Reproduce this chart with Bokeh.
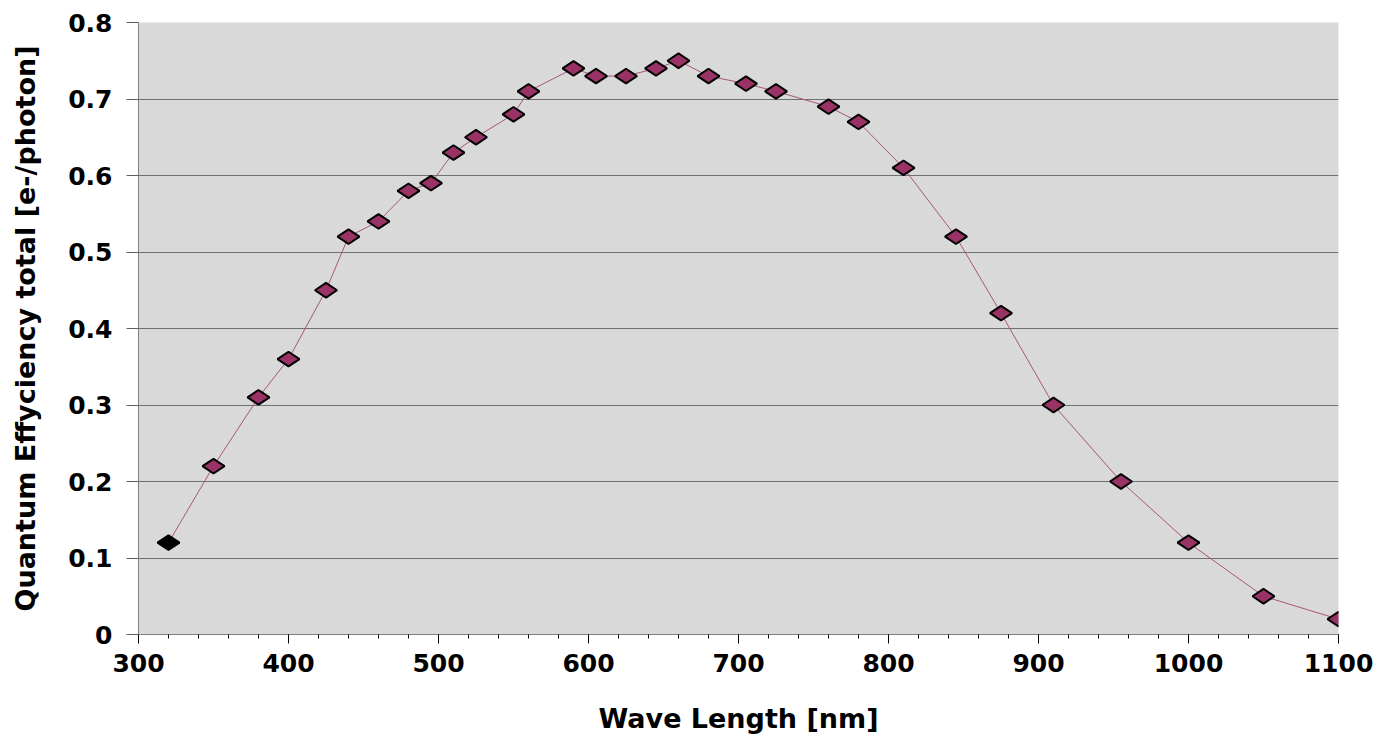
import numpy as np
from bokeh.plotting import figure
from bokeh.models import SingleIntervalTicker, CustomJSTickFormatter, Range1d, ColumnDataSource
from bokeh.embed import file_html
from bokeh.resources import INLINE

wavelength = [320, 350, 380, 400, 425, 440, 460, 480, 495, 510, 525, 550, 560,
              590, 605, 625, 645, 660, 680, 705, 725, 760, 780, 810, 845, 875,
              910, 955, 1000, 1050, 1100]
qe = [0.12, 0.22, 0.31, 0.36, 0.45, 0.52, 0.54, 0.58, 0.59, 0.63, 0.65, 0.68, 0.71,
      0.74, 0.73, 0.73, 0.74, 0.75, 0.73, 0.72, 0.71, 0.69, 0.67, 0.61, 0.52, 0.42,
      0.30, 0.20, 0.12, 0.05, 0.02]

x_label = "Wave Length [nm]"
y_label = "Quantum Effyciency total [e-/photon]"

FONT = "DejaVu Sans"

p = figure(width=1385, height=732, output_backend="svg", toolbar_location=None,
           x_range=Range1d(300, 1100), y_range=Range1d(0, 0.8),
           min_border_left=138, min_border_right=47, min_border_top=22, min_border_bottom=98)
p.frame_width = 1200
p.frame_height = 612

p.background_fill_color = "#D9D9D9"
p.border_fill_color = "white"
p.outline_line_color = None

p.xgrid.grid_line_color = None
p.ygrid.grid_line_color = "#707070"
p.ygrid.grid_line_width = 1

p.xaxis.ticker = SingleIntervalTicker(interval=100, num_minor_ticks=5)
p.yaxis.ticker = SingleIntervalTicker(interval=0.1, num_minor_ticks=0)
p.yaxis.formatter = CustomJSTickFormatter(code="return Math.abs(tick) < 1e-9 ? '0' : tick.toFixed(1);")

for ax in (p.xaxis, p.yaxis):
    ax.axis_line_color = "#808080"
    ax.axis_line_width = 1
    ax.major_label_text_font = FONT
    ax.major_label_text_font_style = "bold"
    ax.major_label_text_font_size = "25px"
    ax.major_label_text_color = "black"
    ax.axis_label_text_font = FONT
    ax.axis_label_text_font_style = "bold"
    ax.axis_label_text_font_size = "27px"
    ax.axis_label_text_color = "black"
    ax.major_tick_in = 0

p.xaxis.axis_label = x_label
p.yaxis.axis_label = y_label
p.xaxis.major_tick_out = 9
p.xaxis.minor_tick_out = 4
p.xaxis.minor_tick_in = 0
p.xaxis.major_tick_line_color = "black"
p.xaxis.minor_tick_line_color = "black"
p.xaxis.major_label_standoff = 10
p.xaxis.axis_label_standoff = 28
p.yaxis.major_tick_out = 12
p.yaxis.minor_tick_line_color = None
p.yaxis.major_tick_line_color = "#606060"
p.yaxis.major_label_standoff = 14
p.yaxis.axis_label_standoff = 24

fills = ["black"] + ["#993366"] * (len(wavelength) - 1)
src = ColumnDataSource(dict(x=wavelength, y=qe, fill=fills))

p.line("x", "y", source=src, line_color="#A8557A", line_width=1)
p.scatter("x", "y", source=src, marker="diamond", size=22, angle=np.pi / 2,
          fill_color="fill", line_color="black", line_width=2)

open("out.html", "w").write(file_html(p, INLINE))
